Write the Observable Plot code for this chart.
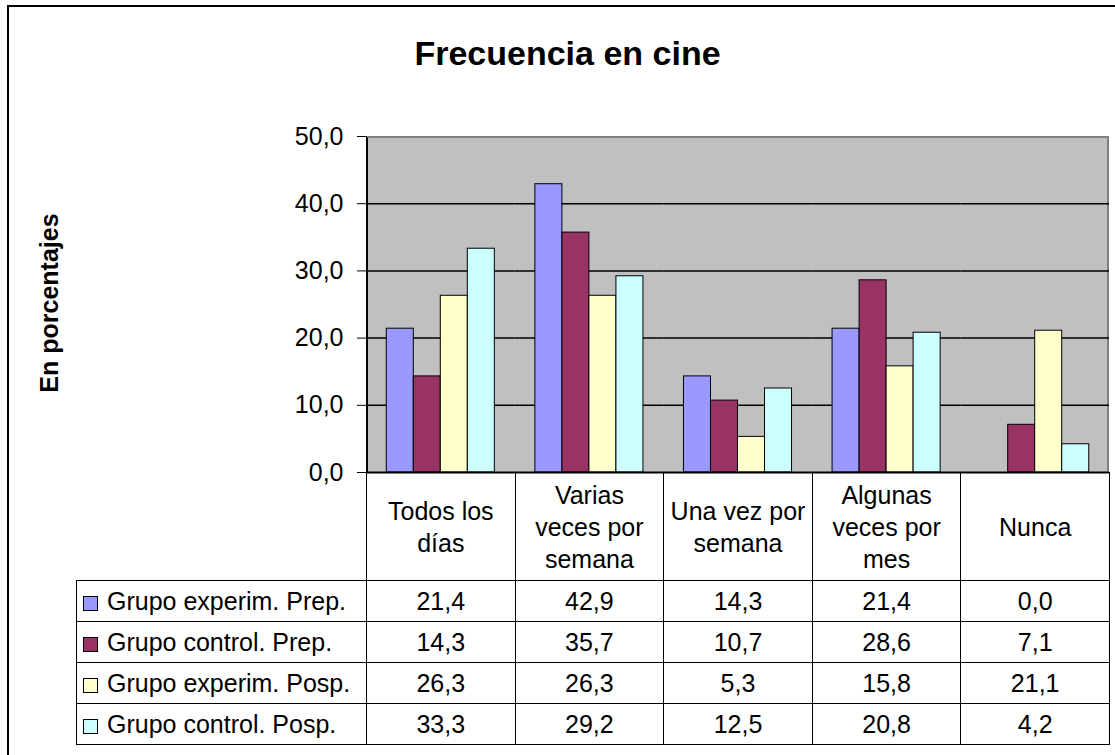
<!DOCTYPE html>
<html>
<head>
<meta charset="utf-8">
<script src="https://cdn.jsdelivr.net/npm/d3@7"></script>
<script src="https://cdn.jsdelivr.net/npm/@observablehq/plot@0.6"></script>
<style>
  html, body { margin: 0; padding: 0; background: #fff; }
  body { width: 1115px; height: 755px; position: relative; overflow: hidden;
         font-family: "Liberation Sans", Arial, sans-serif; color: #000; }
  #frame { position: absolute; left: 7px; top: 5px; width: 1200px; height: 800px;
           border: 2px solid #000; box-sizing: border-box; }
  #title { position: absolute; left: 10px; width: 1115px; top: 36px; line-height: 34px;
           font-size: 34px; font-weight: bold; text-align: center; }
  #ylabel { position: absolute; left: -101px; top: 288px; width: 300px; height: 30px; line-height: 30px;
            font-size: 25px; font-weight: bold; text-align: center; transform: rotate(-90deg); }
  #plotbg { position: absolute; left: 366px; top: 136px; width: 743px; height: 336px;
            background: #c0c0c0; border-top: 2px solid #808080; border-right: 2px solid #808080;
            border-left: 2px solid #000; box-sizing: border-box; }
  #chart { position: absolute; left: 0; top: 0; }
  #tbl { position: absolute; left: 76px; top: 472px; border-collapse: collapse; table-layout: fixed;
         font-size: 25px; }
  #tbl td { border: 1px solid #000; padding: 0; text-align: center; vertical-align: middle; white-space: nowrap; }
  #tbl tr.head td { height: 107px; line-height: 32px; }
  #tbl tr.row td { height: 40px; line-height: 28px; }
  #tbl td.blank { border: none; }
  #tbl td.leg { text-align: left; padding-left: 6px; }
  .sw { display: inline-block; width: 13px; height: 13px; border: 1px solid #000; margin-right: 9px;
        vertical-align: -1px; }
</style>
</head>
<body>
<div id="frame"></div>
<div id="title">Frecuencia en cine</div>
<div id="ylabel">En porcentajes</div>
<div id="plotbg"></div>
<div id="chart"></div>
<table id="tbl"></table>
<script>
// ---- data ----
const categories = ["Todos los días", "Varias veces por semana", "Una vez por semana", "Algunas veces por mes", "Nunca"];
const categoryLines = [["Todos los", "días"], ["Varias", "veces por", "semana"], ["Una vez por", "semana"], ["Algunas", "veces por", "mes"], ["Nunca"]];
const series = ["Grupo experim. Prep.", "Grupo control. Prep.", "Grupo experim. Posp.", "Grupo control. Posp."];
const expPrep  = [21.4, 42.9, 14.3, 21.4, 0.0];
const ctrlPrep = [14.3, 35.7, 10.7, 28.6, 7.1];
const expPosp  = [26.3, 26.3, 5.3, 15.8, 21.1];
const ctrlPosp = [33.3, 29.2, 12.5, 20.8, 4.2];
const colors = ["#9999FF", "#993366", "#FFFFCC", "#CCFFFF"];
const yTicks = [0, 10, 20, 30, 40, 50];
const gridValues = [10, 20, 30, 40];

const seriesValues = [expPrep, ctrlPrep, expPosp, ctrlPosp];
const data = [];
categories.forEach((c, i) => series.forEach((s, j) => data.push({category: c, series: s, value: seriesValues[j][i]})));

const fmt = d => d.toFixed(1).replace(".", ",");

const chart = Plot.plot({
  width: 1115,
  height: 480,
  marginLeft: 366,
  marginRight: 6,
  marginTop: 136,
  marginBottom: 8,
  style: {fontFamily: '"Liberation Sans", Arial, sans-serif', fontSize: "25px", color: "#000", background: "none", overflow: "visible"},
  fx: {domain: categories, padding: 0, round: false, axis: null},
  x: {domain: series, paddingInner: 0, paddingOuter: 0.75, round: false, axis: null},
  y: {domain: [0, 50], ticks: yTicks, tickFormat: fmt, tickSize: 9, tickPadding: 14, label: null},
  color: {domain: series, range: colors},
  marks: [
    Plot.ruleY(gridValues, {stroke: "#000", strokeWidth: 1.5}),
    Plot.barY(data, {fx: "category", x: "series", y: "value", fill: "series", stroke: "#000", strokeWidth: 1}),
    Plot.ruleY([0], {stroke: "#000", strokeWidth: 2})
  ]
});
document.getElementById("chart").appendChild(chart);

// ---- data table ----
const tbl = document.getElementById("tbl");
const colW = 743 / categories.length;
let html = `<colgroup><col style="width:290px">${categories.map(() => `<col style="width:${colW}px">`).join("")}</colgroup>`;
html += `<tr class="head"><td class="blank"></td>${categoryLines.map(l => `<td>${l.join("<br>")}</td>`).join("")}</tr>`;
series.forEach((s, j) => {
  html += `<tr class="row"><td class="leg"><span class="sw" style="background:${colors[j]}"></span>${s}</td>` +
    seriesValues[j].map(v => `<td>${fmt(v)}</td>`).join("") + `</tr>`;
});
tbl.innerHTML = html;
tbl.style.width = (290 + 743) + "px";
</script>
</body>
</html>
